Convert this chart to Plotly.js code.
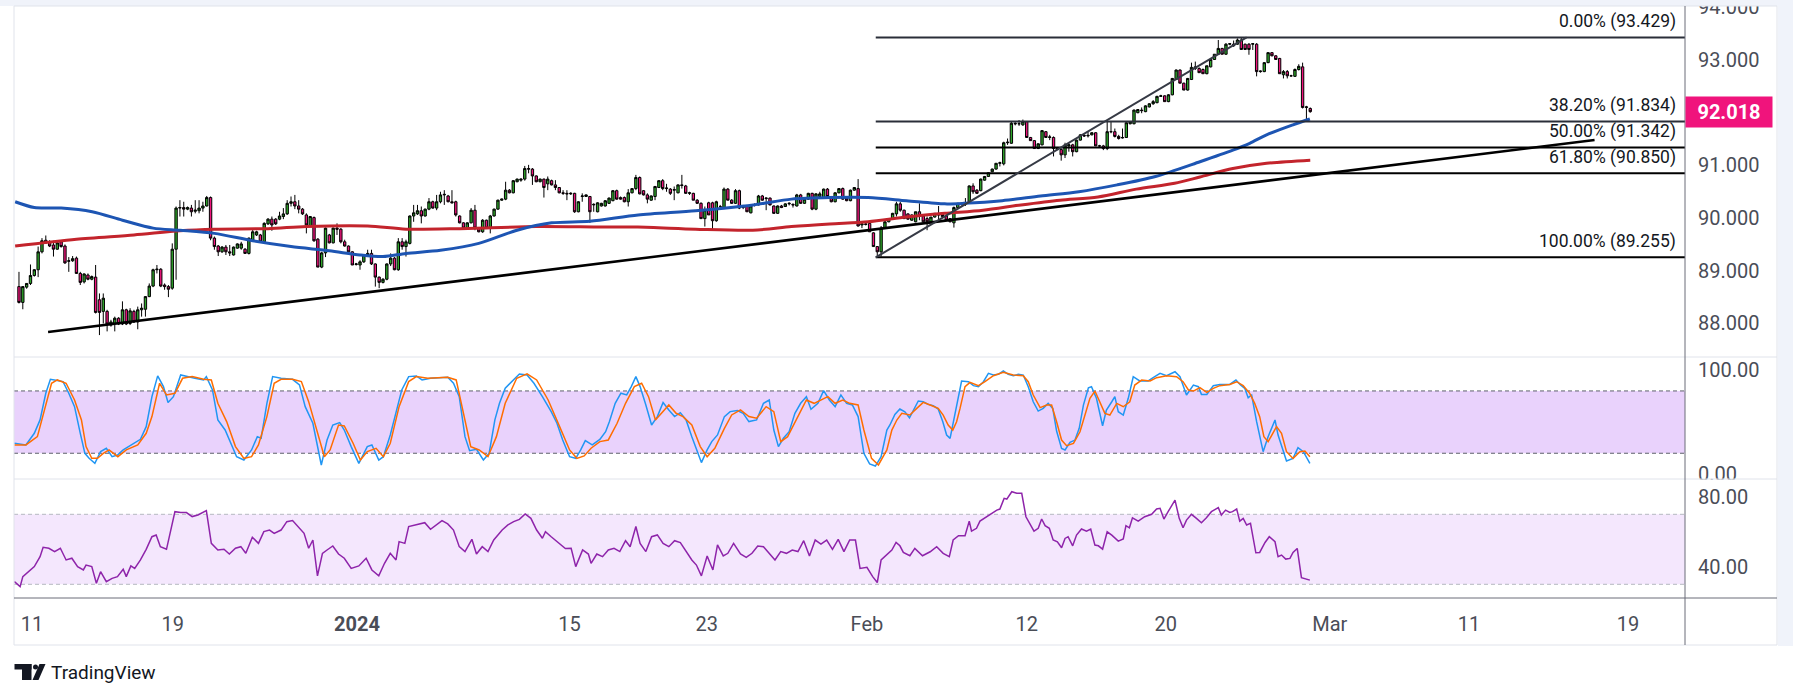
<!DOCTYPE html>
<html><head><meta charset="utf-8">
<script src="https://cdn.plot.ly/plotly-3.0.1.min.js"></script>
<style>html,body{margin:0;padding:0;background:#fff;}#chart{width:1793px;height:699px;}</style>
</head><body><div id="chart"></div>
<script>
// ---------- DATA (4H candles, Dec 8 2023 - Feb 28 2024) ----------
const O = [
88.70,88.40,88.69,88.76,88.91,89.02,89.36,89.58,89.55,89.49,
89.41,89.55,89.47,89.18,89.19,89.24,88.95,88.79,88.92,88.84,
88.88,88.45,88.23,88.23,87.97,88.00,88.10,87.99,88.26,88.00,
88.23,88.03,88.26,88.27,88.51,88.71,89.02,89.03,88.73,88.70,
88.67,89.41,90.19,90.20,90.17,90.19,90.13,90.14,90.19,90.23,
90.39,89.62,89.47,89.36,89.45,89.36,89.30,89.43,89.43,89.41,
89.33,89.58,89.68,89.68,89.55,89.89,89.98,89.98,89.98,90.03,
90.08,90.28,90.31,90.23,90.17,90.06,89.85,90.01,89.60,89.07,
89.34,89.68,89.53,89.81,89.79,89.55,89.47,89.36,89.12,89.11,
89.17,89.28,89.33,89.13,88.88,88.78,88.84,89.13,89.24,89.02,
89.55,89.46,89.52,90.04,90.08,90.14,90.04,90.17,90.31,90.19,
90.31,90.44,90.42,90.31,90.31,90.04,89.91,89.81,89.91,90.15,
89.81,89.74,89.96,89.81,90.04,90.17,90.34,90.36,90.53,90.48,
90.69,90.72,90.74,90.94,90.93,90.80,90.69,90.74,90.65,90.71,
90.63,90.58,90.48,90.47,90.46,90.47,90.12,90.41,90.41,90.41,
90.25,90.12,90.23,90.23,90.28,90.33,90.52,90.39,90.39,90.31,
90.48,90.56,90.77,90.52,90.44,90.34,90.41,90.58,90.71,90.56,
90.55,90.53,90.48,90.63,90.61,90.47,90.47,90.34,90.28,89.99,
90.29,90.29,89.95,90.22,90.19,90.55,90.34,90.28,90.52,90.20,
90.23,90.10,90.24,90.25,90.42,90.37,90.38,90.23,90.09,90.23,
90.22,90.27,90.26,90.23,90.44,90.28,90.36,90.47,90.17,90.41,
90.39,90.55,90.41,90.31,90.48,90.56,90.38,90.33,90.53,90.56,
89.87,89.89,89.90,89.72,89.46,89.36,89.81,89.93,89.99,90.08,
90.27,90.15,90.08,89.96,89.93,90.12,90.04,89.99,89.93,90.02,
90.07,90.10,90.04,89.99,89.91,90.20,90.27,90.27,90.29,90.61,
90.53,90.52,90.72,90.79,90.88,90.93,91.04,91.03,91.43,91.42,
91.80,91.79,91.77,91.83,91.53,91.47,91.32,91.39,91.64,91.53,
91.53,91.30,91.30,91.20,91.37,91.39,91.26,91.48,91.57,91.56,
91.58,91.62,91.37,91.37,91.32,91.64,91.64,91.55,91.52,91.53,
91.79,91.79,92.00,92.05,92.02,92.11,92.17,92.19,92.31,92.32,
92.21,92.34,92.63,92.81,92.56,92.43,92.63,92.84,92.84,92.82,
92.74,92.87,93.01,93.11,93.22,93.11,93.30,93.30,93.30,93.38,
93.30,93.30,93.30,93.30,92.78,92.78,92.95,93.14,93.08,93.03,
92.72,92.78,92.70,92.69,92.82,92.87,92.10,92.08];
const H = [
88.98,88.70,88.76,89.12,89.03,89.46,89.62,89.67,89.58,89.57,
89.58,89.58,89.50,89.26,89.28,89.27,88.98,88.95,88.95,88.91,
89.11,88.57,88.57,88.26,88.07,88.13,88.12,88.42,88.28,88.29,
88.26,88.32,88.38,88.52,88.76,89.04,89.11,89.05,88.76,88.73,
89.52,90.22,90.34,90.31,90.22,90.25,90.34,90.34,90.31,90.42,
90.41,89.65,89.49,89.47,89.49,89.49,89.46,89.52,89.55,89.43,
89.63,89.81,89.76,89.70,89.92,90.00,90.03,90.00,90.12,90.19,
90.34,90.41,90.44,90.34,90.19,90.09,90.04,90.03,89.62,89.36,
89.82,89.70,89.82,89.90,89.81,89.59,89.48,89.37,89.15,89.20,
89.30,89.40,89.40,89.14,88.89,88.86,89.14,89.33,89.26,89.62,
89.62,89.59,90.05,90.25,90.25,90.22,90.18,90.38,90.33,90.44,
90.50,90.53,90.44,90.53,90.33,90.05,89.92,89.92,90.19,90.25,
89.82,89.98,89.97,90.06,90.18,90.35,90.37,90.69,90.55,90.72,
90.75,90.75,90.99,91.01,90.95,90.81,90.75,90.75,90.79,90.73,
90.72,90.59,90.53,90.53,90.49,90.48,90.32,90.47,90.45,90.42,
90.28,90.30,90.29,90.34,90.39,90.53,90.54,90.41,90.41,90.55,
90.57,90.82,90.79,90.53,90.47,90.43,90.61,90.72,90.74,90.65,
90.57,90.60,90.64,90.82,90.63,90.50,90.48,90.36,90.30,90.22,
90.31,90.31,90.33,90.25,90.58,90.57,90.36,90.55,90.54,90.25,
90.25,90.25,90.28,90.44,90.44,90.39,90.39,90.24,90.24,90.25,
90.28,90.30,90.28,90.46,90.46,90.37,90.48,90.48,90.47,90.50,
90.56,90.57,90.42,90.49,90.57,90.58,90.39,90.54,90.59,90.74,
89.93,89.92,89.91,89.73,89.47,89.85,89.94,90.00,90.10,90.31,
90.31,90.16,90.09,90.07,90.12,90.28,90.05,90.03,90.02,90.09,
90.23,90.11,90.05,90.00,90.22,90.29,90.30,90.38,90.62,90.66,
90.55,90.75,90.80,90.87,90.94,91.04,91.07,91.45,91.51,91.83,
91.82,91.86,91.87,91.84,91.54,91.48,91.42,91.67,91.65,91.58,
91.55,91.35,91.32,91.43,91.42,91.41,91.49,91.59,91.59,91.64,
91.63,91.63,91.39,91.39,91.86,91.83,91.70,91.58,91.70,91.82,
91.84,92.06,92.07,92.10,92.14,92.18,92.24,92.32,92.34,92.33,
92.35,92.66,92.82,92.82,92.57,92.66,92.95,92.97,92.86,92.84,
92.89,93.01,93.11,93.38,93.23,93.32,93.32,93.37,93.41,93.43,
93.31,93.32,93.32,93.32,92.80,92.96,93.14,93.15,93.09,93.04,
92.81,92.81,92.72,92.84,92.92,92.95,92.13,92.10];
const L = [
88.38,88.27,88.66,88.73,88.89,88.88,89.33,89.51,89.45,89.27,
89.40,89.44,89.13,88.98,89.17,88.94,88.73,88.76,88.82,88.82,
88.19,87.78,88.00,87.85,87.94,87.85,87.97,87.97,87.97,87.97,
88.01,87.89,88.13,88.13,88.50,88.69,88.95,88.69,88.64,88.50,
88.64,88.83,90.03,90.03,90.15,90.03,90.09,90.09,90.12,90.22,
89.58,89.40,89.28,89.34,89.30,89.28,89.29,89.42,89.40,89.32,
89.31,89.55,89.66,89.54,89.53,89.87,89.76,89.87,89.96,89.98,
90.06,90.22,90.17,90.09,90.06,89.71,89.83,89.55,89.07,89.05,
89.26,89.52,89.52,89.68,89.52,89.46,89.36,89.11,89.10,89.02,
89.15,89.27,89.11,88.70,88.67,88.76,88.82,89.09,89.01,89.00,
89.40,89.27,89.50,89.93,90.06,89.90,90.03,90.15,90.18,90.15,
90.28,90.25,90.30,90.28,90.03,89.90,89.80,89.80,89.90,89.77,
89.73,89.72,89.80,89.71,90.03,90.16,90.33,90.34,90.47,90.47,
90.68,90.69,90.71,90.85,90.63,90.68,90.68,90.39,90.53,90.62,
90.53,90.47,90.44,90.34,90.44,90.10,90.11,90.31,90.40,89.91,
90.12,90.11,90.22,90.22,90.27,90.32,90.35,90.35,90.30,90.22,
90.47,90.53,90.45,90.43,90.28,90.33,90.34,90.57,90.53,90.50,
90.44,90.34,90.47,90.56,90.46,90.44,90.34,90.27,89.99,89.84,
90.06,89.77,89.93,90.19,90.17,90.34,90.27,90.27,90.17,90.17,
90.12,90.09,90.22,90.24,90.33,90.15,90.24,90.08,90.08,90.19,
90.21,90.24,90.20,90.22,90.27,90.27,90.35,90.15,90.15,90.40,
90.38,90.40,90.30,90.30,90.47,90.35,90.32,90.32,90.52,89.84,
89.81,89.86,89.74,89.46,89.26,89.27,89.80,89.92,89.98,90.03,
90.12,89.99,89.97,89.95,89.92,89.96,89.93,89.77,89.92,90.01,
89.96,90.02,89.96,89.92,89.82,90.19,90.24,90.23,90.28,90.46,
90.46,90.51,90.71,90.78,90.87,90.92,90.98,91.00,91.39,91.41,
91.76,91.75,91.75,91.53,91.47,91.32,91.31,91.38,91.53,91.48,
91.17,91.29,91.09,91.14,91.26,91.17,91.25,91.47,91.54,91.53,
91.57,91.37,91.35,91.29,91.29,91.61,91.53,91.49,91.51,91.52,
91.78,91.78,91.99,91.99,92.01,92.10,92.15,92.18,92.30,92.21,
92.20,92.33,92.62,92.56,92.43,92.42,92.62,92.81,92.76,92.74,
92.73,92.86,93.00,93.10,93.11,93.10,93.28,93.25,93.29,93.19,
93.20,93.10,93.19,92.69,92.76,92.77,92.94,93.07,93.01,92.74,
92.65,92.65,92.68,92.68,92.80,92.08,91.86,92.00];
const C = [
88.40,88.70,88.76,88.91,89.02,89.36,89.57,89.53,89.47,89.41,
89.53,89.46,89.15,89.19,89.23,88.95,88.78,88.94,88.84,88.89,
88.21,88.21,88.48,87.99,88.03,88.10,87.99,88.26,87.99,88.24,
88.03,88.26,88.29,88.51,88.71,89.02,89.03,88.71,88.70,88.65,
89.41,90.19,90.20,90.17,90.20,90.12,90.15,90.19,90.23,90.39,
89.62,89.46,89.36,89.45,89.36,89.34,89.45,89.51,89.51,89.33,
89.62,89.74,89.74,89.55,89.90,89.98,89.87,89.89,90.04,90.08,
90.28,90.31,90.23,90.17,90.08,89.87,90.03,89.57,89.07,89.34,
89.81,89.53,89.81,89.79,89.55,89.47,89.36,89.11,89.13,89.17,
89.30,89.33,89.13,88.88,88.78,88.84,89.13,89.24,89.02,89.55,
89.46,89.55,90.04,90.10,90.14,90.04,90.17,90.31,90.19,90.31,
90.44,90.45,90.31,90.29,90.06,89.91,89.81,89.91,90.15,89.81,
89.74,89.96,89.81,90.04,90.17,90.34,90.36,90.53,90.48,90.71,
90.74,90.74,90.94,90.93,90.80,90.69,90.74,90.58,90.74,90.63,
90.58,90.48,90.47,90.46,90.47,90.12,90.31,90.42,90.44,90.12,
90.26,90.29,90.28,90.33,90.38,90.52,90.36,90.36,90.31,90.48,
90.56,90.77,90.46,90.44,90.36,90.42,90.60,90.71,90.56,90.57,
90.47,90.54,90.63,90.62,90.47,90.48,90.34,90.28,89.99,90.15,
90.06,89.95,90.31,90.22,90.55,90.34,90.28,90.52,90.19,90.22,
90.12,90.23,90.25,90.42,90.34,90.38,90.25,90.09,90.23,90.20,
90.27,90.28,90.25,90.44,90.28,90.36,90.47,90.17,90.46,90.46,
90.55,90.41,90.31,90.48,90.56,90.36,90.33,90.53,90.58,89.85,
89.89,89.88,89.74,89.46,89.36,89.81,89.93,89.99,90.09,90.27,
90.15,89.99,89.98,90.06,90.12,90.04,89.93,89.93,90.02,90.09,
90.06,90.03,89.96,89.93,90.20,90.28,90.27,90.28,90.61,90.50,
90.47,90.74,90.79,90.86,90.93,91.04,91.05,91.43,91.44,91.80,
91.79,91.79,91.83,91.53,91.47,91.32,91.41,91.66,91.53,91.54,
91.32,91.34,91.20,91.39,91.39,91.26,91.48,91.58,91.56,91.57,
91.62,91.37,91.37,91.32,91.64,91.64,91.55,91.51,91.53,91.81,
91.83,92.05,92.06,92.04,92.13,92.17,92.21,92.31,92.32,92.21,
92.34,92.65,92.81,92.56,92.43,92.65,92.86,92.87,92.76,92.74,
92.89,93.01,93.11,93.22,93.11,93.30,93.31,93.27,93.38,93.20,
93.20,93.20,93.31,92.78,92.79,92.95,93.14,93.08,93.01,92.74,
92.78,92.70,92.70,92.82,92.88,92.10,92.11,92.02];

// moving averages (bar index, value)
const blueX = [-1,4,11,19.1,27,35,42,51,61,71,81,89,95,101,110,120,130,139,149,161.6,176.6,191.6,201.6,211.6,221.6,231.6,241.6,246.6,256.6,266.6,276.6,286.6,296.6,308.2,316.8,321.2,325.6,332.5,336.9];
const blueY = [90.31,90.20,90.19,90.12,89.96,89.81,89.77,89.71,89.57,89.46,89.38,89.30,89.27,89.33,89.39,89.52,89.77,89.91,89.94,90.06,90.14,90.25,90.36,90.39,90.39,90.33,90.27,90.28,90.33,90.42,90.50,90.63,90.79,91.07,91.29,91.42,91.58,91.77,91.88];
const redX = [-1,15,30,42,51,65,75,91,101,115,135,152,161.5,176.6,191.5,201.6,211.6,221.6,231.6,241.6,251.6,261.5,271.7,281.6,291.6,301.6,308.2,316.8,325.6,337];
const redY = [89.47,89.60,89.68,89.76,89.79,89.80,89.84,89.85,89.79,89.80,89.84,89.83,89.83,89.79,89.77,89.84,89.89,89.93,90.02,90.09,90.15,90.25,90.34,90.40,90.55,90.66,90.78,90.94,91.04,91.10];

// drawings
const trendX = [7.6, 411.2];
const trendY = [87.84, 91.48];
const fibPct = [0, 38.2, 50, 61.8, 100];
const fibLevel = [93.429, 91.834, 91.342, 90.850, 89.255];
const fibStartX = 223.6, fibEndX = 320.4;
const lastPrice = 92.018;

// Stochastic %K / %D (bar index, value)
const kX = [-1.2,1.8,4.0,5.5,7.0,8.2,10.0,11.5,13.0,14.5,16.0,17.2,18.3,19.8,21.3,22.8,24.3,25.7,27.2,28.7,30.2,31.7,33.2,34.7,36.2,37.7,38.9,40.3,42.2,43.7,45.9,48.2,48.9,50.5,51.9,53.8,54.9,56.8,58.7,60.7,62.2,63.2,64.7,66.2,68.4,71.4,73.2,74.7,76.7,78.2,78.9,80.4,81.9,83.7,84.9,86.7,88.7,90.9,92.1,93.9,95.1,96.9,98.4,99.9,101.7,103.7,105.2,107.4,111.9,113.4,114.9,116.4,117.6,119.4,121.2,122.7,124.2,125.4,126.9,129.1,130.6,132.6,134.4,136.6,138.9,140.4,141.9,143.7,145.3,146.6,147.8,149.6,151.6,153.1,154.1,155.6,157.1,158.6,159.8,161.0,162.1,163.6,165.1,166.6,168.1,169.6,171.1,172.6,174.1,175.6,177.1,178.1,179.6,180.8,182.3,184.1,185.6,187.5,189.0,190.5,192.5,194.3,195.8,197.0,198.2,199.5,201.0,202.5,204.0,205.5,206.7,208.5,210.0,211.5,213.0,214.5,216.0,217.5,219.0,220.5,222.0,223.5,225.0,226.5,227.3,228.6,229.9,231.2,232.4,233.4,234.7,236.0,237.3,238.6,239.9,241.1,242.1,243.0,244.0,246.0,247.8,249.1,250.4,251.7,253.0,254.3,255.6,256.9,258.2,259.5,260.8,262.1,263.4,264.7,266.0,267.3,268.6,269.8,270.8,272.1,273.0,274.3,275.6,276.7,277.8,279.1,279.9,281.2,282.8,283.8,285.2,286.0,286.9,288.2,289.5,290.8,292.5,294.7,296.0,297.8,299.5,301.7,303.0,304.7,306.5,307.8,308.6,310.0,311.7,313.4,316.0,317.6,318.8,319.9,320.8,321.7,323.0,324.7,326.0,327.8,328.6,329.5,330.8,332.5,333.8,335.2,336.9];
const kY = [29.6,28.0,39.2,52.1,77.8,91.2,90.0,89.0,77.8,64.9,39.2,19.9,15.1,10.3,21.6,24.8,16.7,18.3,23.2,26.4,29.6,33.4,45.6,74.5,94.5,84.2,68.8,74.5,95.4,93.8,92.2,90.6,93.8,81.0,52.1,42.4,32.8,16.7,13.5,23.2,36.0,34.4,68.1,93.8,92.2,91.2,85.8,64.9,48.9,23.2,8.7,32.8,47.2,49.5,42.4,26.4,10.3,26.4,28.0,13.5,16.7,37.6,58.5,81.0,93.8,94.5,90.6,92.2,93.2,87.4,74.5,36.0,22.5,23.8,13.5,19.9,52.1,68.1,82.6,90.6,96.4,95.4,87.4,74.5,60.1,48.9,32.8,16.7,15.1,23.2,32.2,28.0,33.4,40.8,50.5,68.1,77.8,76.2,84.2,93.8,84.2,66.5,47.2,55.3,68.8,61.7,55.3,59.1,52.1,36.0,19.9,11.0,23.2,31.2,37.6,55.3,60.1,61.1,58.5,50.5,52.1,68.1,71.3,42.4,26.4,34.4,40.8,58.5,68.1,74.5,62.3,68.1,80.3,71.3,64.9,76.2,68.1,66.5,55.3,19.9,9.7,7.7,16.7,42.4,47.2,57.4,62.6,60.0,54.2,60.6,70.3,69.6,67.1,65.8,62.6,50.4,37.5,34.3,52.0,89.6,88.9,85.1,84.1,88.9,96.9,95.3,96.0,99.2,96.0,94.7,96.0,95.3,84.1,69.6,60.6,63.2,68.0,63.2,41.4,24.7,23.1,30.5,32.7,44.0,66.4,83.1,84.1,72.9,46.5,61.6,69.6,74.5,60.0,56.8,72.9,93.7,89.6,89.6,92.8,96.9,94.7,98.5,93.7,76.1,85.7,84.1,76.7,76.7,85.1,86.3,86.3,90.5,85.7,82.5,73.5,76.1,50.4,21.5,35.9,52.0,37.5,27.9,12.5,15.0,25.3,21.5,10.2];
const dX = [-1.2,1.8,4.8,6.7,8.5,10.0,12.3,14.5,16.3,17.5,19.0,20.5,22.0,23.5,25.8,28.0,31.0,33.2,34.7,36.7,38.5,40.7,42.7,45.2,48.2,50.2,51.9,54.2,56.5,58.7,60.7,62.5,64.7,66.6,68.4,71.4,73.7,75.6,77.4,79.7,81.2,83.4,84.9,87.2,89.1,90.9,93.2,95.1,96.9,99.2,101.7,103.7,106.7,111.9,114.1,116.1,117.9,120.1,122.4,124.6,126.9,129.9,132.6,135.1,138.1,141.1,143.7,145.6,147.5,149.3,151.6,153.8,156.1,158.3,160.6,162.5,164.3,166.1,168.1,169.6,171.5,173.3,175.6,177.8,179.6,181.6,184.1,186.0,188.3,190.5,192.5,195.0,197.0,198.8,200.6,203.3,205.5,207.5,209.3,211.1,213.0,215.0,216.8,219.0,220.5,222.5,224.3,226.5,227.8,229.1,230.4,232.5,234.3,236.0,237.8,239.9,241.2,242.5,243.7,244.7,245.6,246.9,248.2,250.4,252.1,254.3,256.9,259.5,262.1,263.4,264.7,266.5,268.2,269.5,270.8,272.1,273.4,275.2,276.9,278.2,279.5,280.8,282.1,283.4,284.7,286.5,288.2,289.9,291.2,293.0,295.2,296.9,299.5,302.1,303.8,305.2,306.5,308.2,310.0,311.7,313.4,316.0,317.8,319.5,321.2,322.5,323.8,324.9,326.0,327.3,328.2,329.5,330.8,332.5,334.3,335.6,336.9];
const dY = [28.0,28.0,36.0,61.7,87.4,90.6,87.4,71.3,52.1,26.4,15.1,15.1,19.9,23.2,16.7,23.2,28.0,39.2,55.3,87.4,76.2,77.8,92.2,93.8,91.2,90.6,68.1,50.5,26.4,15.1,16.7,28.0,55.3,87.4,91.2,91.2,89.0,69.7,45.6,16.7,23.2,47.2,46.3,29.6,13.5,21.6,24.8,16.7,29.6,64.9,89.0,93.8,92.2,93.2,90.6,58.5,26.4,23.2,16.7,36.0,68.1,92.2,96.4,90.6,71.3,45.6,23.2,15.1,17.4,24.8,31.2,32.8,48.9,68.1,84.2,87.4,74.5,52.1,60.1,66.5,58.5,55.3,47.2,26.4,16.7,24.8,44.0,56.9,61.7,55.3,53.7,64.9,60.1,31.2,36.0,55.3,71.3,68.1,71.3,74.5,68.1,71.3,68.1,66.5,42.4,15.1,8.7,23.2,42.3,52.0,58.4,56.8,63.2,69.0,66.4,63.2,56.8,47.2,42.3,50.4,63.2,84.1,88.3,85.1,88.9,94.7,97.9,95.3,94.7,88.9,76.1,63.9,66.4,66.4,50.4,32.7,27.3,29.5,40.7,56.8,72.9,79.9,69.6,58.4,56.8,68.0,64.8,69.6,85.7,90.5,89.6,92.8,94.7,93.7,88.9,80.9,79.9,83.1,78.6,82.5,85.1,86.3,88.9,85.1,77.7,68.0,55.2,35.9,31.1,39.1,45.6,39.1,21.5,15.0,21.5,22.1,16.7];

// RSI (bar index, value)
const rsiX = [-1.2,0.3,1.0,2.5,4.0,5.5,6.3,7.8,9.3,10.8,12.3,13.8,15.3,16.8,17.5,19.0,20.2,21.3,22.8,24.3,25.7,27.2,28.0,29.2,30.2,31.7,33.2,34.7,35.8,36.9,38.5,40.7,42.2,43.7,45.2,46.7,48.9,50.2,51.9,53.5,54.9,56.5,57.9,59.2,60.9,62.5,63.9,65.4,66.6,68.4,69.9,71.4,72.9,74.4,75.6,76.7,77.9,79.2,80.4,81.9,83.4,84.9,86.7,88.7,90.6,92.1,93.9,95.4,96.9,98.4,99.2,100.7,101.7,103.7,105.9,107.4,108.9,110.4,111.9,113.4,114.9,116.4,118.2,119.4,120.9,122.4,123.9,126.1,127.6,129.1,130.6,132.1,133.6,135.1,136.6,137.4,138.9,141.1,142.6,144.1,145.3,147.1,148.6,149.3,150.8,152.3,153.8,155.3,156.8,158.3,159.5,161.0,162.1,163.6,165.1,166.6,168.1,169.6,171.1,172.6,174.1,175.6,176.8,178.1,179.6,181.1,182.3,183.8,185.0,186.5,188.3,189.8,191.3,192.8,194.3,195.8,197.3,198.8,200.3,201.8,203.3,204.8,206.3,207.8,209.3,210.8,212.3,213.8,215.3,216.8,218.3,219.5,221.3,222.8,224.0,225.0,226.5,227.8,228.9,229.9,230.8,232.5,233.8,235.8,237.8,239.5,241.2,242.8,243.8,245.2,246.9,248.0,248.6,249.9,250.8,252.5,253.8,255.2,256.0,257.1,257.8,259.1,260.4,261.7,262.8,263.8,264.9,266.0,266.9,267.8,268.9,269.9,271.0,272.1,273.0,273.8,275.0,276.0,277.3,278.6,279.7,280.8,281.7,282.8,284.0,285.2,286.9,288.2,288.9,289.8,290.6,292.1,293.8,295.6,296.9,297.8,298.8,299.9,301.7,302.8,303.8,304.7,306.0,307.3,308.6,309.9,311.2,313.0,313.8,314.9,316.0,316.7,317.8,318.6,319.5,320.4,321.4,322.8,323.8,325.2,326.3,327.8,328.6,329.5,330.6,331.7,332.5,333.6,334.7,336.9];
const rsiY = [31.5,28.7,34.4,37.2,40.1,45.8,51.1,50.6,48.7,50.6,43.9,44.9,40.1,38.2,41.0,40.1,30.6,37.2,31.5,33.4,34.4,38.6,34.4,40.5,39.1,43.9,50.0,57.2,58.2,51.5,50.0,71.5,71.0,71.0,68.7,69.6,72.1,53.4,49.6,50.0,47.3,50.6,51.5,47.7,56.9,53.4,60.1,61.0,59.1,61.0,65.8,66.4,63.0,59.1,50.6,55.3,34.8,47.7,49.6,51.9,47.3,44.9,39.1,40.5,44.9,38.2,34.8,42.0,47.7,43.9,54.4,53.4,63.0,63.9,65.2,61.4,63.9,66.4,64.5,61.0,51.5,48.7,55.7,47.3,51.5,48.7,55.3,61.0,63.9,65.8,67.1,70.2,67.7,61.0,56.3,60.1,57.2,53.4,50.4,50.6,40.1,49.6,47.3,42.0,47.3,45.8,49.6,50.6,48.7,54.9,51.5,63.0,53.4,48.7,57.2,58.2,53.4,51.5,54.9,53.8,48.7,43.9,41.0,34.8,46.2,38.2,52.5,46.2,47.7,53.4,47.3,45.4,47.7,51.9,51.5,47.7,43.9,48.7,47.7,49.6,48.7,54.9,46.2,55.3,53.0,55.3,50.0,55.7,48.7,55.3,55.3,39.1,39.7,34.4,31.0,43.9,46.8,49.6,53.9,52.0,48.2,46.3,50.5,46.3,48.6,51.5,47.7,45.8,55.3,57.8,57.8,66.1,60.4,62.0,66.1,68.6,70.0,72.4,73.0,79.1,78.7,82.9,82.0,82.0,68.6,64.8,60.4,62.0,67.3,63.5,62.0,55.3,54.3,50.9,56.2,57.2,52.0,58.1,61.6,60.4,61.6,52.4,52.0,50.1,60.0,58.1,54.7,55.9,63.5,62.3,68.0,66.1,68.6,70.0,73.0,73.4,67.3,71.5,78.1,67.7,62.3,66.7,70.0,67.7,65.2,68.0,71.5,73.8,69.6,72.4,71.1,71.5,73.0,66.1,67.7,63.9,64.8,48.0,48.2,53.9,57.2,54.3,45.8,46.7,44.4,44.8,48.2,50.5,33.8,32.4];

// axis ticks
const xTickIdx = [3.4, 40.1, 88.2, 143.7, 179.5, 221.3, 263.0, 299.3, 342.1, 378.4, 419.9];
const xTickText = ['11','19','<b>2024</b>','15','23','Feb','12','20','Mar','11','19'];
const priceTicks = [94, 93, 91, 90, 89, 88];
const stochTicks = [100, 0];
const rsiTicks = [80, 40];

// ---------- LAYOUT HELPERS (pixel geometry) ----------
const W = 1793, Hh = 699, ML = 14, MR = 108, MT = 6, MB = 101;
const PW = W - ML - MR, PH = Hh - MT - MB;
const px = v => (v - ML) / PW;
const py = v => (Hh - MB - v) / PH;
const FR = 1777; // right edge of chart frame
const X_MAX = 434.8;
const FONT = 'Roboto, "DejaVu Sans", sans-serif';
const idx = O.map((_, i) => i);

const traces = [];
traces.push({type:'candlestick', x: idx, open:O, high:H, low:L, close:C, xaxis:'x', yaxis:'y',
  increasing:{line:{color:'#000000', width:1}, fillcolor:'#2ea52a'},
  decreasing:{line:{color:'#000000', width:1}, fillcolor:'#f0147c'},
  whiskerwidth:0, hoverinfo:'skip', showlegend:false});
traces.push({type:'scatter', mode:'lines', x:redX, y:redY, xaxis:'x', yaxis:'y',
  line:{color:'#c3242c', width:3, shape:'spline', smoothing:0.8}, hoverinfo:'skip'});
traces.push({type:'scatter', mode:'lines', x:blueX, y:blueY, xaxis:'x', yaxis:'y',
  line:{color:'#1d55b3', width:3, shape:'spline', smoothing:0.8}, hoverinfo:'skip'});
traces.push({type:'scatter', mode:'lines', x:trendX, y:trendY, xaxis:'x', yaxis:'y',
  line:{color:'#000000', width:2.5}, hoverinfo:'skip'});
fibLevel.forEach((lv, k) => {
  traces.push({type:'scatter', mode:'lines', x:[fibStartX, X_MAX + 2], y:[lv, lv], xaxis:'x', yaxis:'y',
    line:{color: k < 2 ? '#2a2e39' : '#000000', width:2}, hoverinfo:'skip'});
});
traces.push({type:'scatter', mode:'lines', x:[fibStartX, fibEndX], y:[fibLevel[4], fibLevel[0]], xaxis:'x', yaxis:'y',
  line:{color:'#363a45', width:2}, hoverinfo:'skip'});
traces.push({type:'scatter', mode:'lines', x:kX, y:kY, xaxis:'x', yaxis:'y2',
  line:{color:'#2196f3', width:1.5}, hoverinfo:'skip'});
traces.push({type:'scatter', mode:'lines', x:dX, y:dY, xaxis:'x', yaxis:'y2',
  line:{color:'#ff6d00', width:1.5}, hoverinfo:'skip'});
traces.push({type:'scatter', mode:'lines', x:rsiX, y:rsiY, xaxis:'x', yaxis:'y3',
  line:{color:'#8e24aa', width:1.5}, hoverinfo:'skip'});

const axFont = {family:FONT, size:20, color:'#4a4d57'};
const yCommon = {side:'right', anchor:'x', showgrid:false, zeroline:false, showline:false,
  ticks:'', ticklabelstandoff:12, tickfont:axFont, fixedrange:true, tickmode:'array', ticklabeloverflow:'allow'};

const shapes = [];
shapes.push({type:'rect', xref:'paper', yref:'y2', x0:0, x1:1, y0:20, y1:80, fillcolor:'#e9d2fc', line:{width:0}, layer:'below'});
shapes.push({type:'rect', xref:'paper', yref:'y3', x0:0, x1:1, y0:30, y1:70, fillcolor:'#f4e7fd', line:{width:0}, layer:'below'});
[20, 80].forEach(v => shapes.push({type:'line', xref:'paper', yref:'y2', x0:0, x1:1, y0:v, y1:v, line:{color:'#5d606b', width:1, dash:'4px,3px'}, layer:'below'}));
[30, 70].forEach(v => shapes.push({type:'line', xref:'paper', yref:'y3', x0:0, x1:1, y0:v, y1:v, line:{color:'#b5b8c0', width:1, dash:'4px,3px'}, layer:'below'}));
// outer bands / covers
shapes.push({type:'rect', xref:'paper', yref:'paper', x0:px(0), x1:px(W), y0:py(MT), y1:py(0), fillcolor:'#f0f3fa', line:{width:0}, layer:'above'});
shapes.push({type:'rect', xref:'paper', yref:'paper', x0:px(FR + 1), x1:px(W), y0:py(646), y1:py(0), fillcolor:'#f0f3fa', line:{width:0}, layer:'above'});
shapes.push({type:'rect', xref:'paper', yref:'paper', x0:px(1687), x1:px(FR), y0:py(486), y1:py(479.5), fillcolor:'#ffffff', line:{width:0}, layer:'above'});
// pane dividers and frame
[357, 479].forEach(v => shapes.push({type:'line', xref:'paper', yref:'paper', x0:px(ML), x1:px(FR), y0:py(v), y1:py(v), line:{color:'#e0e3eb', width:1}, layer:'above'}));
shapes.push({type:'line', xref:'paper', yref:'paper', x0:px(ML), x1:px(FR), y0:py(MT), y1:py(MT), line:{color:'#e0e3eb', width:1}, layer:'above'});
shapes.push({type:'line', xref:'paper', yref:'paper', x0:px(ML), x1:px(FR), y0:py(645), y1:py(645), line:{color:'#e0e3eb', width:1}, layer:'above'});
shapes.push({type:'line', xref:'paper', yref:'paper', x0:px(ML), x1:px(ML), y0:py(645), y1:py(MT), line:{color:'#e0e3eb', width:1}, layer:'above'});
shapes.push({type:'line', xref:'paper', yref:'paper', x0:px(FR), x1:px(FR), y0:py(645), y1:py(MT), line:{color:'#e0e3eb', width:1}, layer:'above'});
shapes.push({type:'line', xref:'paper', yref:'paper', x0:1, x1:1, y0:py(645), y1:py(MT), line:{color:'#6a6d78', width:1}, layer:'above'});
shapes.push({type:'line', xref:'paper', yref:'paper', x0:px(ML), x1:px(FR), y0:0, y1:0, line:{color:'#6a6d78', width:1}, layer:'above'});
// TradingView logo
shapes.push({type:'rect', xref:'paper', yref:'paper', x0:px(14.5), x1:px(31.5), y0:py(669.5), y1:py(664), fillcolor:'#131722', line:{width:0}});
shapes.push({type:'rect', xref:'paper', yref:'paper', x0:px(22), x1:px(31.5), y0:py(680), y1:py(664), fillcolor:'#131722', line:{width:0}});
shapes.push({type:'circle', xref:'paper', yref:'paper', x0:px(33), x1:px(38), y0:py(669.5), y1:py(664.5), fillcolor:'#131722', line:{width:0}});
shapes.push({type:'path', xref:'paper', yref:'paper',
  path:`M ${px(39.5)} ${py(664)} L ${px(45.5)} ${py(664)} L ${px(38.5)} ${py(680)} L ${px(32.5)} ${py(680)} Z`,
  fillcolor:'#131722', line:{width:0}});

const annotations = [];
fibLevel.forEach((lv, k) => annotations.push({xref:'x', yref:'y', x:432.9, y:lv, xanchor:'right', yanchor:'middle', yshift:15.5,
  text:`${fibPct[k].toFixed(2)}% (${lv.toFixed(3)})`, showarrow:false, font:{family:FONT, size:17.5, color:'#131722'}}));
annotations.push({xref:'paper', yref:'y', x:1, y:lastPrice, xanchor:'left', yanchor:'middle',
  text:`<b>${lastPrice.toFixed(3)}</b>`, showarrow:false, bgcolor:'#f0147c', width:80, height:24, borderpad:3,
  font:{family:FONT, size:20, color:'#ffffff'}});
annotations.push({xref:'paper', yref:'paper', x:px(49), y:py(672), xanchor:'left', yanchor:'middle',
  text:'TradingView', showarrow:false, font:{family:FONT, size:19, color:'#131722'}});

const layout = {
  width:W, height:Hh, margin:{l:ML, r:MR, t:MT, b:MB, pad:0},
  paper_bgcolor:'#ffffff', plot_bgcolor:'#ffffff', showlegend:false, boxgap:0.12,
  font:{family:FONT},
  xaxis:{domain:[0,1], range:[-1.3, X_MAX], anchor:'y3', tickmode:'array', tickvals:xTickIdx, ticktext:xTickText,
    tickfont:axFont, showgrid:false, zeroline:false, showline:false, ticks:'', ticklabelstandoff:12,
    rangeslider:{visible:false}, fixedrange:true},
  yaxis:Object.assign({}, yCommon, {domain:[py(357), 1], range:[87.364, 94.025], tickvals:priceTicks, ticktext:priceTicks.map(v => v.toFixed(3))}),
  yaxis2:Object.assign({}, yCommon, {domain:[py(479), py(357)], range:[-4.8, 112.7], tickvals:stochTicks, ticktext:stochTicks.map(v => v.toFixed(2))}),
  yaxis3:Object.assign({}, yCommon, {domain:[0, py(479)], range:[22.17, 90.17], tickvals:rsiTicks, ticktext:rsiTicks.map(v => v.toFixed(2))}),
  shapes:shapes, annotations:annotations
};
Plotly.newPlot('chart', traces, layout, {staticPlot:true, displayModeBar:false});
</script></body></html>
